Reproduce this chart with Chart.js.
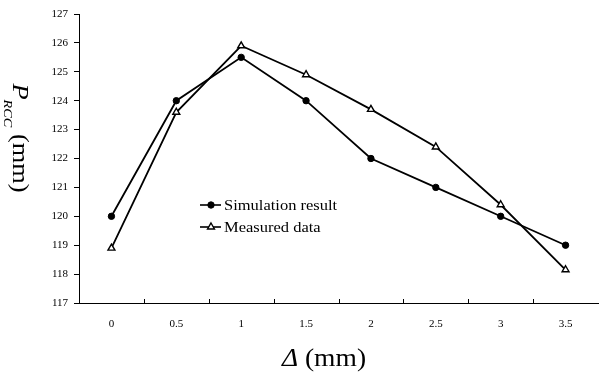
<!DOCTYPE html>
<html>
<head>
<meta charset="utf-8">
<script src="https://cdn.jsdelivr.net/npm/chart.js@4"></script>
<style>
  html, body { margin: 0; padding: 0; background: #fff; }
  canvas { display: block; }
</style>
</head>
<body>
<canvas id="grafico" width="606" height="372"></canvas>
<script>
// dados
const categorias = ['0', '0.5', '1', '1.5', '2', '2.5', '3', '3.5'];
const simulacao = [120, 124, 125.5, 124, 122, 121, 120, 119];
const medido = [118.9, 123.6, 125.9, 124.9, 123.7, 122.4, 120.4, 118.15];
const ticksY = [117, 118, 119, 120, 121, 122, 123, 124, 125, 126, 127];

const fonteSerif = '"Liberation Serif", "Times New Roman", serif';
const esticar = 1.1; // letras um pouco mais largas, como no original

// escreve pedaços de texto em sequência, com fonte e deslocamento próprios
function escreverPartes(ctx, partes, centro) {
    let total = 0;
    partes.forEach(p => {
        ctx.font = p.fonte;
        p.w = ctx.measureText(p.texto).width;
        total += p.w;
    });
    let px = centro - total / 2;
    partes.forEach(p => {
        ctx.font = p.fonte;
        ctx.fillText(p.texto, px, p.dy || 0);
        px += p.w;
    });
}

// títulos dos eixos, marcas do eixo x e legenda desenhados à mão
const extras = {
    id: 'extras',
    afterDraw(chart) {
        const ctx = chart.ctx;
        const area = chart.chartArea;
        const x = chart.scales.x;
        ctx.save();
        ctx.strokeStyle = '#000';
        ctx.fillStyle = '#000';
        ctx.lineWidth = 1;

        // marcas do eixo x (para dentro, entre as categorias)
        for (let i = 1; i < categorias.length; i++) {
            const px = Math.round((x.getPixelForValue(i - 1) + x.getPixelForValue(i)) / 2) + 0.5;
            ctx.beginPath();
            ctx.moveTo(px, area.bottom);
            ctx.lineTo(px, area.bottom - 4);
            ctx.stroke();
        }

        ctx.textBaseline = 'alphabetic';
        ctx.textAlign = 'left';

        // título do eixo x
        ctx.setTransform(esticar, 0, 0, 1, 324, 366);
        escreverPartes(ctx, [
            { texto: 'Δ', fonte: 'italic 25px ' + fonteSerif },
            { texto: ' (mm)', fonte: '25px ' + fonteSerif }
        ], 0);

        // título do eixo y (lido de cima para baixo)
        ctx.setTransform(1, 0, 0, 1, 13, 138);
        ctx.rotate(Math.PI / 2);
        ctx.scale(esticar, 1);
        escreverPartes(ctx, [
            { texto: 'P', fonte: 'italic 24px ' + fonteSerif },
            { texto: 'RCC', fonte: 'italic 13px ' + fonteSerif, dy: 9 },
            { texto: ' (mm)', fonte: '24px ' + fonteSerif }
        ], 0);
        ctx.setTransform(1, 0, 0, 1, 0, 0);

        // legenda
        const itens = [
            { texto: 'Simulation result', ds: 0, y: 205 },
            { texto: 'Measured data', ds: 1, y: 227 }
        ];
        ctx.textBaseline = 'middle';
        itens.forEach(it => {
            ctx.lineWidth = 1.6;
            ctx.strokeStyle = '#000';
            ctx.beginPath();
            ctx.moveTo(200, it.y);
            ctx.lineTo(221, it.y);
            ctx.stroke();
            const d = chart.data.datasets[it.ds];
            ctx.fillStyle = d.pointBackgroundColor;
            ctx.lineWidth = d.pointBorderWidth;
            Chart.helpers.drawPoint(ctx, {
                pointStyle: d.pointStyle,
                radius: d.pointRadius,
                borderWidth: d.pointBorderWidth
            }, 211, it.y);
            ctx.fillStyle = '#000';
            ctx.font = '15px ' + fonteSerif;
            ctx.setTransform(esticar, 0, 0, 1, 224, it.y + 1);
            ctx.fillText(it.texto, 0, 0);
            ctx.setTransform(1, 0, 0, 1, 0, 0);
        });
        ctx.restore();
    }
};

const ctx = document.getElementById('grafico');
new Chart(ctx, {
    type: 'line',
    data: {
        labels: categorias,
        datasets: [{
            label: 'Simulation result',
            data: simulacao,
            borderColor: '#000',
            borderWidth: 1.8,
            backgroundColor: '#000',
            pointStyle: 'circle',
            pointRadius: 3.2,
            pointBorderWidth: 1,
            pointBackgroundColor: '#000',
            pointBorderColor: '#000',
            tension: 0
        }, {
            label: 'Measured data',
            data: medido,
            borderColor: '#000',
            borderWidth: 1.8,
            backgroundColor: '#fff',
            pointStyle: 'triangle',
            pointRadius: 4,
            pointBorderWidth: 1.4,
            pointBackgroundColor: '#fff',
            pointBorderColor: '#000',
            tension: 0
        }]
    },
    options: {
        responsive: false,
        animation: false,
        devicePixelRatio: 1,
        layout: { padding: { top: 14, right: 8, left: 0, bottom: 0 } },
        plugins: {
            legend: { display: false },
            tooltip: { enabled: false }
        },
        scales: {
            x: {
                offset: true,
                grid: { display: false, drawTicks: false },
                border: { display: true, color: '#000', width: 1 },
                ticks: {
                    color: '#000',
                    padding: 15,
                    font: { family: fonteSerif, size: 11 },
                    maxRotation: 0
                },
                afterFit(scale) { scale.height = 69; }
            },
            y: {
                min: 117,
                max: 127,
                afterBuildTicks(scale) {
                    scale.ticks = ticksY.map(v => ({ value: v }));
                },
                grid: { drawOnChartArea: false, tickLength: 5, color: '#000' },
                border: { display: true, color: '#000', width: 1 },
                ticks: {
                    color: '#000',
                    padding: 6,
                    autoSkip: false,
                    font: { family: fonteSerif, size: 11 }
                },
                afterFit(scale) { scale.width = 79; }
            }
        }
    },
    plugins: [extras]
});
</script>
</body>
</html>
